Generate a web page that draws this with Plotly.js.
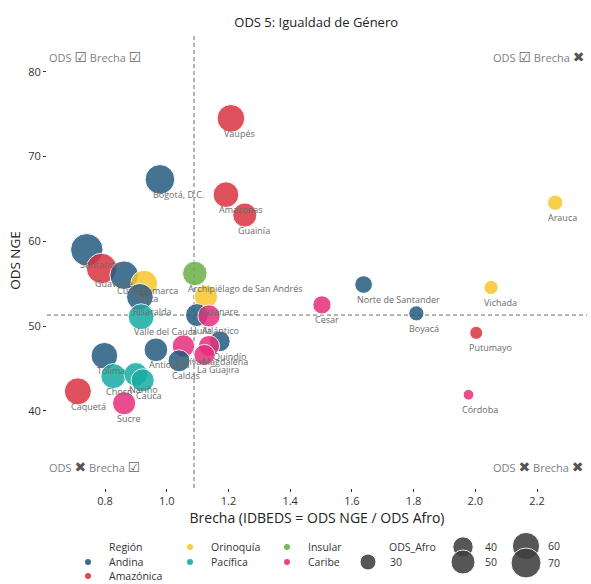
<!DOCTYPE html>
<html><head><meta charset="utf-8">
<script src="https://cdn.plot.ly/plotly-3.0.1.min.js"></script>
<style>body{margin:0;background:#fff}#chart{width:591px;height:584px}</style>
</head><body><div id="chart"></div>
<script>
// ---- data ----
const departamentos = ["Vaupés","Bogotá, D.C.","Amazonas","Guainía","Santander","Guaviare","Cundinamarca","Meta","Risaralda","Valle del Cauca","Archipiélago de San Andrés","Casanare","Huila","Atlántico","Quindío","Magdalena","La Guajira","Bolívar","Antioquia","Caldas","Tolima","Chocó","Nariño","Cauca","Caquetá","Sucre","Cesar","Norte de Santander","Vichada","Arauca","Boyacá","Putumayo","Córdoba"];
const brecha = [1.208,0.978,1.192,1.253,0.741,0.789,0.862,0.927,0.913,0.917,1.091,1.127,1.098,1.137,1.172,1.137,1.122,1.054,0.965,1.040,0.798,0.827,0.900,0.922,0.712,0.862,1.503,1.638,2.051,2.259,1.809,2.003,1.978];
const odsNGE = [74.5,67.3,65.5,63.1,59.0,56.8,56.0,55.0,53.45,51.1,56.2,53.45,51.3,51.2,48.2,47.65,46.6,47.65,47.2,45.9,46.5,44.1,44.3,43.6,42.3,40.9,52.5,54.9,54.55,64.55,51.5,49.2,41.9];
const odsAfro = [61.7,68.8,55.0,50.4,79.6,72.0,65.0,59.3,58.5,55.8,51.5,47.4,46.7,45.0,41.1,41.9,41.5,45.2,48.9,44.1,58.3,53.3,49.2,47.3,59.4,47.4,34.9,33.5,26.6,28.6,28.5,24.6,21.2];
const region = ["Amazónica","Andina","Amazónica","Amazónica","Andina","Amazónica","Andina","Orinoquía","Andina","Pacífica","Insular","Orinoquía","Andina","Caribe","Andina","Caribe","Caribe","Caribe","Andina","Andina","Andina","Pacífica","Pacífica","Pacífica","Amazónica","Caribe","Caribe","Andina","Orinoquía","Orinoquía","Andina","Amazónica","Caribe"];
const regiones = ["Andina","Amazónica","Orinoquía","Pacífica","Insular","Caribe"];
const tallasLeyenda = [30,40,50,60,70];
const umbralBrecha = 1.0885;
const umbralODS = 51.3;
const titulo = "ODS 5: Igualdad de Género";
const tituloX = "Brecha (IDBEDS = ODS NGE / ODS Afro)";
const tituloY = "ODS NGE";

// ---- styles ----
const colores = {"Andina":"#255b80","Amazónica":"#d9323f","Orinoquía":"#f8c62c","Pacífica":"#17aca4","Insular":"#6cb046","Caribe":"#e72f7c"};
const FONT = "'Open Sans', 'DejaVu Sans', sans-serif";
function diam(v){ return Math.sqrt(Math.max(60, 256 + (v - 30) * 16.1)); }

const M = {l:47, r:4, t:33, b:96};
const W = 591, H = 584, PW = W - M.l - M.r, PH = H - M.t - M.b;
function px(x){ return (x - M.l) / PW; }
function py(y){ return (H - M.b - y) / PH; }

const traces = [{
  type:'scatter', mode:'markers',
  x: brecha, y: odsNGE, text: departamentos,
  marker:{size: odsAfro.map(diam), sizemode:'diameter',
    color: region.map(r => colores[r]), opacity:0.85,
    line:{color:'#ffffff', width:1}},
  hoverinfo:'text', showlegend:false
}];

const annotations = departamentos.map((d,i) => ({
  x: brecha[i], y: odsNGE[i], xref:'x', yref:'y', text:d, showarrow:false,
  xanchor:'left', yanchor:'middle', xshift:-9, yshift:-15,
  font:{family:FONT, size:9, color:'#6b6b6b'}
}));

const OK = '<span style="font-size:14px;color:#666">☑</span>';
const NO = '<span style="font-size:14px;color:#555">✖</span>';
const quad = [
  {t:'ODS '+OK+' Brecha '+OK, x:0, y:py(56), xa:'left'},
  {t:'ODS '+OK+' Brecha '+NO, x:px(586), y:py(56), xa:'right'},
  {t:'ODS '+NO+' Brecha '+OK, x:0, y:py(466), xa:'left'},
  {t:'ODS '+NO+' Brecha '+NO, x:px(586), y:py(466), xa:'right'}
];
quad.forEach(q => annotations.push({xref:'paper', yref:'paper', x:q.x, y:q.y, xanchor:q.xa, yanchor:'middle',
  text:q.t, showarrow:false, font:{family:FONT, size:11, color:'#808080'}}));

// ---- reference lines + hand-drawn ggplot-like legend ----
const shapes = [
  {type:'line', xref:'x', yref:'paper', x0:umbralBrecha, x1:umbralBrecha, y0:0, y1:1, line:{color:'#6a6a6a', width:1, dash:'4px,3px'}, layer:'below'},
  {type:'line', xref:'paper', yref:'y', x0:0, x1:1, y0:umbralODS, y1:umbralODS, line:{color:'#6a6a6a', width:1, dash:'4px,3px'}, layer:'below'}
];
function legText(t, x, y){ annotations.push({xref:'paper', yref:'paper', x:px(x), y:py(y), xanchor:'left', yanchor:'middle', text:t, showarrow:false, font:{family:FONT, size:10.5, color:'#333'}}); }
function legCircle(x, y, d, color, op, lw){ const r = d/2; shapes.push({type:'circle', xref:'paper', yref:'paper', xsizemode:'pixel', ysizemode:'pixel', xanchor:px(x), yanchor:py(y), x0:-r, x1:r, y0:-r, y1:r, fillcolor:color, opacity:op, line:{color:'#ffffff', width:lw}}); }

legText('Región', 107, 547);
const legPos = [[88,562],[88,576],[190,547],[190,562],[287,547],[287,562]];
regiones.forEach((r,i) => { legCircle(legPos[i][0], legPos[i][1], 6, colores[r], 0.9, 0); legText(r, legPos[i][0]+19, legPos[i][1]); });
legText('ODS_Afro', 387, 547);
const sizePos = [[368,562],[463,547],[463,562],[526,546],[526,563]];
tallasLeyenda.forEach((v,i) => { legCircle(sizePos[i][0], sizePos[i][1], diam(v), '#3f3f3f', 0.88, 1); legText(String(v), sizePos[i][0] + 19.5, sizePos[i][1]); });

const axisBase = {showgrid:false, zeroline:false, showline:false, ticks:'outside', ticklen:3, tickwidth:1, tickcolor:'#333',
  tickfont:{family:FONT, size:11, color:'#333'}};

const layout = {
  width:W, height:H, margin:M, paper_bgcolor:'#fff', plot_bgcolor:'#fff',
  font:{family:FONT},
  title:{text:titulo, x:0.535, xanchor:'center', y:0.962, yanchor:'middle', font:{family:FONT, size:13, color:'#222'}},
  xaxis:Object.assign({}, axisBase, {range:[0.612, 2.362], tickvals:[0.8,1.0,1.2,1.4,1.6,1.8,2.0,2.2], ticktext:['0.8','1.0','1.2','1.4','1.6','1.8','2.0','2.2'],
    title:{text:tituloX, standoff:0, font:{family:FONT, size:14, color:'#222'}}}),
  yaxis:Object.assign({}, axisBase, {range:[30.9, 84.57], tickvals:[40,50,60,70,80],
    title:{text:tituloY, standoff:4, font:{family:FONT, size:13.5, color:'#222'}}}),
  shapes:shapes, annotations:annotations, showlegend:false
};
Plotly.newPlot('chart', traces, layout, {displayModeBar:false, staticPlot:true});
</script></body></html>
